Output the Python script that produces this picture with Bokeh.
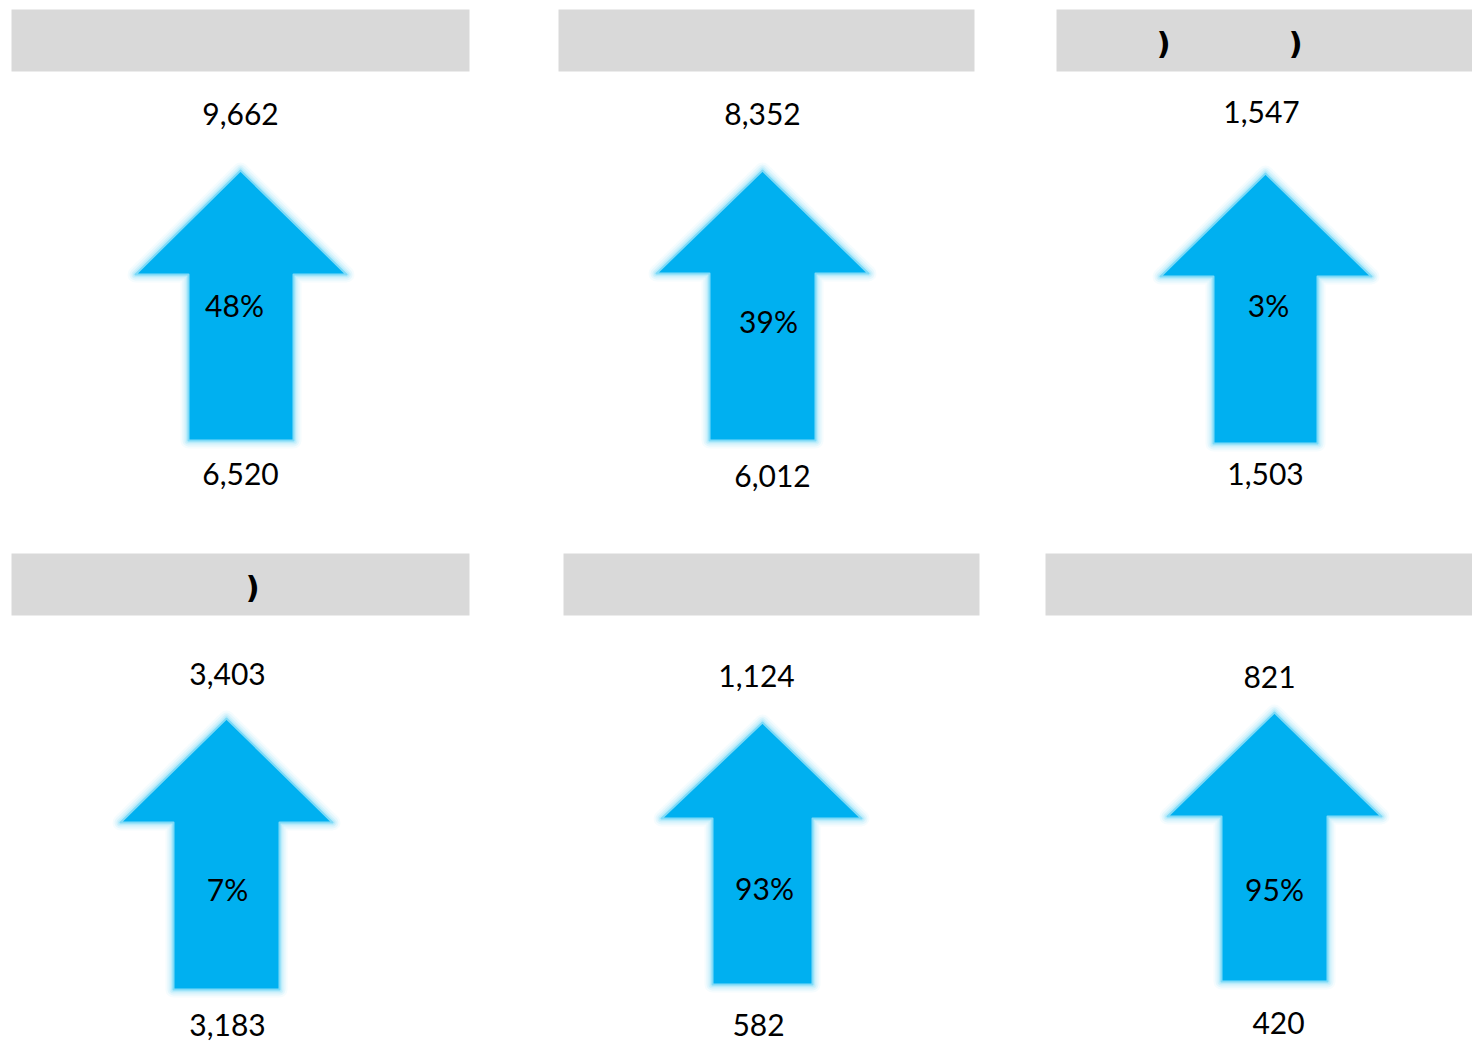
from bokeh.plotting import figure
from bokeh.models import Range1d, ColumnDataSource
from bokeh.embed import file_html
from bokeh.resources import INLINE
from bokeh.core.properties import value

# ---- data ----
top_values = [9662, 8352, 1547, 3403, 1124, 821]
bottom_values = [6520, 6012, 1503, 3183, 582, 420]
pct_labels = ["48%", "39%", "3%", "7%", "93%", "95%"]
header_labels = [[], [], [")", ")"], [")"], [], []]

# ---- layout (page pixel coordinates) ----
headers = [(11, 469, 9, 71), (558, 974, 9, 71), (1056, 1472, 9, 71),
           (11, 469, 553, 615), (563, 979, 553, 615), (1045, 1472, 553, 615)]
header_text_x = [[], [], [1163, 1295], [252], [], []]
# arrow: tip_x, tip_y, head_y, head_l, head_r, shaft_l, shaft_r, bottom
arrows = [(240, 170, 274, 135, 346, 188, 293, 440),
          (762, 170, 273, 656, 868, 709, 815, 440),
          (1265, 173, 276, 1160, 1371, 1213, 1317, 443),
          (226, 718, 822, 120, 332, 173, 279, 989),
          (762, 722, 818, 661, 861, 712, 812, 984),
          (1274, 712, 816, 1167, 1381, 1221, 1327, 981)]
top_pos = [(240, 113), (762, 113), (1261, 111), (227, 673), (756, 675), (1269, 676)]
pct_pos = [(234, 304), (768, 320), (1268, 304), (227, 888), (764, 887), (1274, 888)]
bot_pos = [(240, 473), (772, 475), (1265, 473), (227, 1024), (758, 1024), (1278, 1022)]

FONT = value("Lato")

p = figure(width=1472, height=1048, output_backend="svg", toolbar_location=None,
           x_range=Range1d(0, 1472), y_range=Range1d(1048, 0),
           min_border=0)
p.axis.visible = False
p.grid.visible = False
p.outline_line_color = None
p.background_fill_color = "white"

# header boxes
p.quad(left=[h[0] for h in headers], right=[h[1] for h in headers],
       top=[h[2] for h in headers], bottom=[h[3] for h in headers],
       fill_color="#D9D9D9", line_color=None)

hx, hy, ht = [], [], []
for i, labs in enumerate(header_labels):
    for j, lab in enumerate(labs):
        hx.append(header_text_x[i][j])
        hy.append((headers[i][2] + headers[i][3]) / 2 + 2)
        ht.append(lab)
p.text(x=hx, y=hy, text=ht, text_align="center", text_baseline="middle",
       text_font=value("DejaVu Sans"), text_font_style="bold", text_font_size="31px",
       text_color="black")

# arrows
xs, ys = [], []
for (tx, ty, hy_, hl, hr, sl, sr, b) in arrows:
    xs.append([tx, hr, sr, sr, sl, sl, hl])
    ys.append([ty, hy_, hy_, b, b, hy_, hy_])
src = ColumnDataSource(dict(xs=xs, ys=ys))
for lw, a in [(16, 0.10), (12, 0.18), (8, 0.3), (5, 0.45)]:
    p.patches("xs", "ys", source=src, fill_color=None, line_color="#9fe6fa",
              line_width=lw, line_alpha=a, line_join="round")
p.patches("xs", "ys", source=src, fill_color="#00B0F0", line_color="#7fdaf7",
          line_width=2, line_join="round")

# value labels
p.text(x=[q[0] for q in top_pos], y=[q[1] for q in top_pos],
       text=[f"{v:,}" for v in top_values], text_align="center", text_baseline="middle",
       text_font=FONT, text_font_size="30px", text_color="black")
p.text(x=[q[0] for q in bot_pos], y=[q[1] for q in bot_pos],
       text=[f"{v:,}" for v in bottom_values], text_align="center", text_baseline="middle",
       text_font=FONT, text_font_size="30px", text_color="black")
p.text(x=[q[0] for q in pct_pos], y=[q[1] for q in pct_pos],
       text=pct_labels, text_align="center", text_baseline="middle",
       text_font=FONT, text_font_size="30px", text_color="black")

open("out.html", "w").write(file_html(p, INLINE))
